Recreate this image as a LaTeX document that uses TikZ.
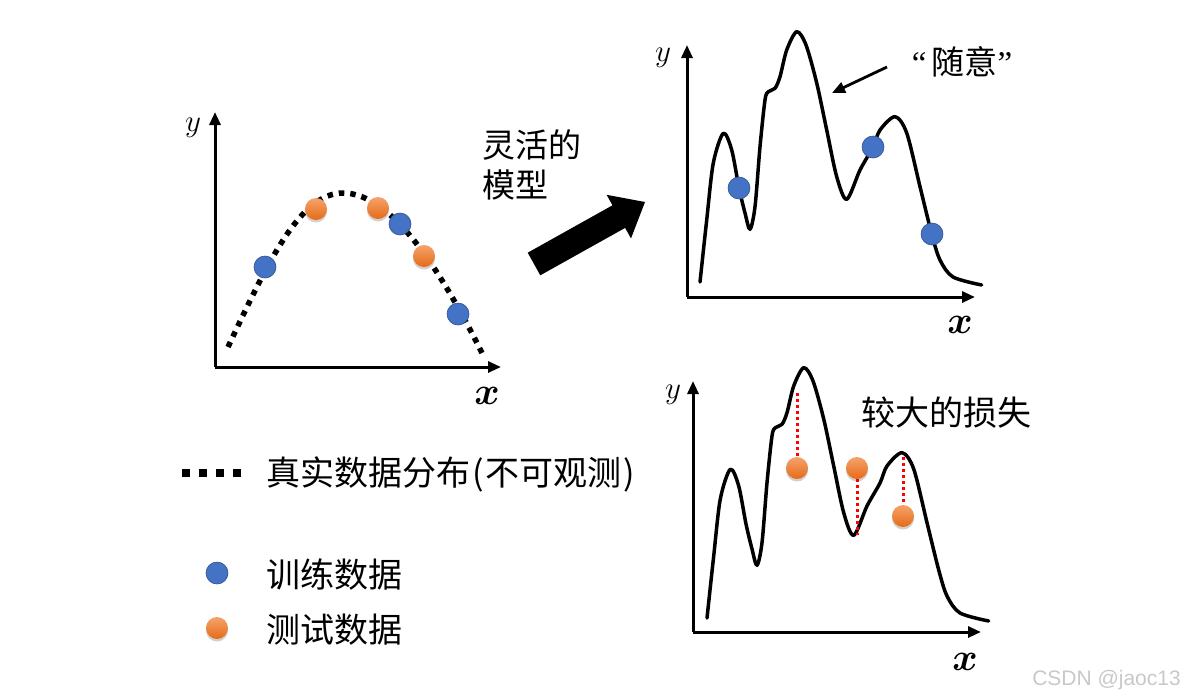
\documentclass[tikz,border=0pt]{standalone}
\usepackage{fontspec}
\newfontfamily\cjk{Noto Sans CJK SC}
\newfontfamily\wmfont{Liberation Sans}
\newfontfamily\qfont{Liberation Serif}
\usetikzlibrary{arrows.meta}
\definecolor{ptblue}{HTML}{4472C4}
\definecolor{ptblueedge}{HTML}{2F528F}
\definecolor{ptorangetop}{HTML}{F5A36C}
\definecolor{ptorangebot}{HTML}{E56B17}
\definecolor{wmgray}{HTML}{C8C8C8}
\newcommand{\ylabtext}{\scalebox{1.25}{$y$}}
\newcommand{\xlabtext}{\scalebox{1.55}{\boldmath$x$}}
\begin{document}
\begin{tikzpicture}[x=1pt,y=-1pt,
  axis/.style={line width=3pt,-{Triangle[length=13pt,width=11pt]}},
  truedist/.style={line width=5.5pt,dash pattern=on 5.5pt off 6pt},
  fitcurve/.style={line width=3.5pt,line join=round,line cap=round},
  trainpt/.style={circle,minimum size=22pt,inner sep=0pt,fill=ptblue,draw=ptblueedge,line width=0.6pt},
  testpt/.style={circle,minimum size=22pt,inner sep=0pt,top color=ptorangetop,bottom color=ptorangebot,
    preaction={fill=black,opacity=0.18,transform canvas={yshift=-2.5pt}}},
  lossline/.style={red,line width=3pt,dash pattern=on 3pt off 3pt},
  pointer/.style={line width=2.8pt,-{Triangle[length=13pt,width=11pt]}},
  cjktext/.style={font=\cjk\fontsize{33}{40}\selectfont,inner sep=0pt},
  legtext/.style={font=\cjk\fontsize{34}{38}\selectfont,inner sep=0pt,anchor=west},
  ylab/.style={font=\Huge,inner sep=0pt},
  xlab/.style={font=\Huge,inner sep=0pt},
  wiggle/.pic={
    \draw[fitcurve] plot[smooth,tension=0.5] coordinates {
      (700,282) (706.7,220) (713.3,163) (723.3,133.3) (731.7,150) (739,188) (745,213) (750,229.3)
      (755,206.7) (760,146.7) (765,100) (768.3,91.7) (775,88.3) (780,76.7) (786.7,50) (796.7,31.7)
      (806,45) (816.7,83) (826.7,130) (836.7,176.7) (846.7,199.3) (860,170) (873,147) (880,130)
      (895,116.7) (906.7,133) (920,186.7) (931.7,234) (940,260) (953,277) (981.7,285)};
  }]
\useasboundingbox (0,0) rectangle (1185,699);

% ---------- left plot ----------
\coordinate (L-o) at (215,367);
\coordinate (L-ytip) at (215,112);
\coordinate (L-xtip) at (501,367);
\draw[axis] (L-o) -- (L-ytip);
\draw[axis] (L-o) -- (L-xtip);
\node[ylab] (L-y) at (193,128) {\ylabtext};
\node[xlab] (L-x) at (487,396) {\xlabtext};
\draw[truedist] (228,347) .. controls (268,262) and (300,193) .. (343,193)
  .. controls (392,193) and (442,272) .. (484,357);
\node[trainpt] (L-b1) at (265,267) {};
\node[testpt]  (L-o1) at (316,209) {};
\node[testpt]  (L-o2) at (378,208) {};
\node[trainpt] (L-b2) at (400,224) {};
\node[testpt]  (L-o3) at (424,256) {};
\node[trainpt] (L-b3) at (458,314) {};

% ---------- middle ----------
\node[cjktext,align=left,anchor=west] (flex) at (482,165) {灵活的\\模型};
\fill (527.7,252.7) -- (612.5,205.3) -- (606.6,194.8) -- (645,202) -- (631,238.4)
  -- (625.1,227.9) -- (540.3,275.3) -- cycle;

% ---------- top right ----------
\coordinate (T-o) at (687,297);
\coordinate (T-ytip) at (687,45);
\coordinate (T-xtip) at (975,297);
\draw[axis] (T-o) -- (T-ytip);
\draw[axis] (T-o) -- (T-xtip);
\node[ylab] (T-y) at (663,58) {\ylabtext};
\node[xlab] (T-x) at (960,325) {\xlabtext};
\pic at (0,0) {wiggle};
\node[trainpt] (T-b1) at (739,188) {};
\node[trainpt] (T-b2) at (873,147) {};
\node[trainpt] (T-b3) at (932,234) {};
\node[cjktext] (rand) at (962,62) {{\qfont “}\hspace{5pt}随意{\qfont ”}};
\coordinate (ptrS) at (887,67);
\coordinate (ptrE) at (832,93);
\draw[pointer] (ptrS) -- (ptrE);

% ---------- bottom right ----------
\coordinate (B-o) at (693,632);
\coordinate (B-ytip) at (693,381);
\coordinate (B-xtip) at (981,632);
\draw[axis] (B-o) -- (B-ytip);
\draw[axis] (B-o) -- (B-xtip);
\node[ylab] (B-y) at (673,395) {\ylabtext};
\node[xlab] (B-x) at (965,662) {\xlabtext};
\pic at (7,336) {wiggle};
\coordinate (c1) at (797,393);
\coordinate (c2) at (857,535);
\coordinate (c3) at (903,457);
\node[testpt] (B-o1) at (797,468) {};
\node[testpt] (B-o2) at (857,468) {};
\node[testpt] (B-o3) at (903,516) {};
\draw[lossline] (c1) -- (B-o1.north);
\draw[lossline] (B-o2.south) -- (c2);
\draw[lossline] (c3) -- (B-o3.north);
\node[cjktext,font=\cjk\fontsize{34}{40}\selectfont] (loss) at (946,413) {较大的损失};

% ---------- legend ----------
\coordinate (lg-a) at (182,473);
\coordinate (lg-b) at (242,473);
\draw[line width=8pt,dash pattern=on 8pt off 9pt] (lg-a) -- (lg-b);
\node[legtext] (lg-t1) at (266,474) {真实数据分布\hspace{2pt}(\hspace{2pt}不可观测\hspace{2pt})};
\node[trainpt] (lg-p1) at (217,573) {};
\node[legtext] (lg-t2) at (266,575) {训练数据};
\node[testpt] (lg-p2) at (217,628) {};
\node[legtext] (lg-t3) at (266,630) {测试数据};

% ---------- watermark ----------
\node[font=\wmfont\fontsize{21}{21}\selectfont,text=wmgray,anchor=east,inner sep=0pt] (wm) at (1181,680) {CSDN @jaoc13};
\end{tikzpicture}
\end{document}
